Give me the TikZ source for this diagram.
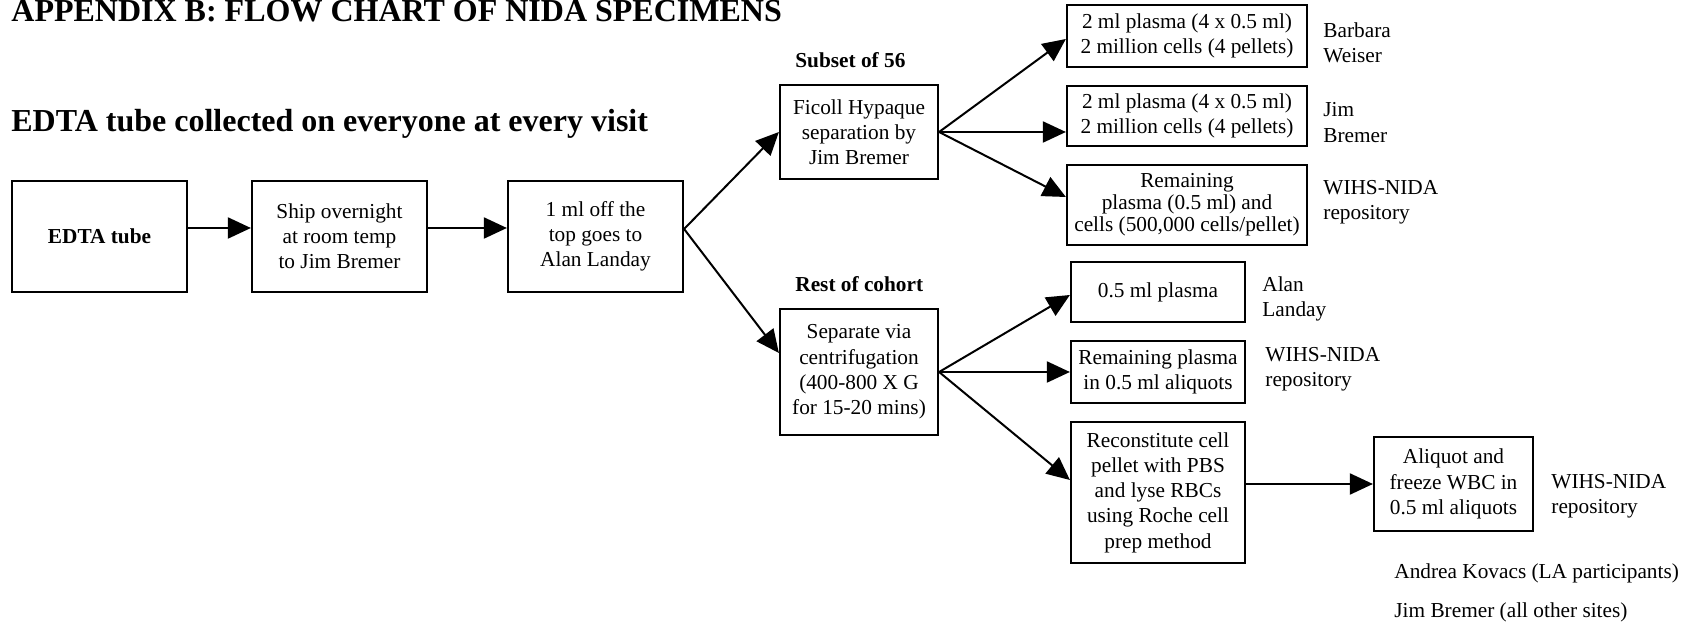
\documentclass[tikz,border=0pt]{standalone}
\usepackage{fontspec}
\setmainfont{Liberation Serif}
\usetikzlibrary{arrows.meta,calc}
\newcommand\bodyfont{\fontsize{10.65}{12.6}\selectfont}
\newcommand\tightfont{\fontsize{10.65}{10.9}\selectfont}
\newcommand\headfont{\fontsize{16}{19}\selectfont\bfseries}
\begin{document}
\begin{tikzpicture}[x=0.5pt,y=-0.5pt,
  box/.style={draw,line width=1.1pt,inner sep=0pt,align=center,font=\bodyfont},
  lbl/.style={anchor=west,inner sep=0pt,align=left,font=\bodyfont},
  head/.style={anchor=base west,inner sep=0pt,font=\headfont},
  subhead/.style={anchor=base west,inner sep=0pt,font=\bodyfont\bfseries},
  conn/.style={line width=1pt,-{Triangle[length=11.5pt,width=10.5pt]}},
]
\useasboundingbox (0,0) rectangle (1694,625);

% headings
\node[head] (title) at (11,22) {APPENDIX B: FLOW CHART OF NIDA SPECIMENS};
\node[head] (sub) at (11,132) {EDTA tube collected on everyone at every visit};
\node[subhead] (subset) at (795,68) {Subset of 56};
\node[subhead] (rest) at (795,292) {Rest of cohort};

% main chain
\node[box,minimum width=87.5pt,minimum height=55.5pt,font=\bodyfont\bfseries] (edta) at (99.5,236.5) {EDTA tube};
\node[box,minimum width=87.5pt,minimum height=55.5pt] (ship) at (339.5,236.5) {Ship overnight\\at room temp\\to Jim Bremer};
\node[box,minimum width=87.5pt,minimum height=55.5pt] (oneml) at (595.5,236.5) {1 ml off the\\top goes to\\Alan Landay};

% branches
\node[box,minimum width=79pt,minimum height=47pt] (ficoll) at (859,132) {Ficoll Hypaque\\separation by\\Jim Bremer};
\node[box,minimum width=79pt,minimum height=63pt] (sep) at (859,372) {Separate via\\centrifugation\\(400-800 X G\\for 15-20 mins)};

% subset outputs
\node[box,minimum width=120pt,minimum height=31pt] (b1) at (1187,36) {2 ml plasma (4 x 0.5 ml)\\2 million cells (4 pellets)};
\node[box,minimum width=120pt,minimum height=30pt] (b2) at (1187,116) {2 ml plasma (4 x 0.5 ml)\\2 million cells (4 pellets)};
\node[box,minimum width=120pt,minimum height=40pt,font=\tightfont] (b3) at (1187,205) {Remaining\\plasma (0.5 ml) and\\cells (500,000 cells/pellet)};

% rest outputs
\node[box,minimum width=87pt,minimum height=30pt] (c1) at (1158,292) {0.5 ml plasma};
\node[box,minimum width=87pt,minimum height=31pt] (c2) at (1158,372) {Remaining plasma\\in 0.5 ml aliquots};
\node[box,minimum width=87pt,minimum height=70.5pt] (c3) at (1158,492.5) {Reconstitute cell\\pellet with PBS\\and lyse RBCs\\using Roche cell\\prep method};
\node[box,minimum width=79.5pt,minimum height=47pt] (d) at (1453.5,484) {Aliquot and\\freeze WBC in\\0.5 ml aliquots};

% side labels
\node[lbl] (lb1) at (1323,42.5) {Barbara\\Weiser};
\node[lbl] (lb2) at (1323,122.5) {Jim\\Bremer};
\node[lbl] (lb3) at (1323,202) {WIHS-NIDA\\repository};
\node[lbl] (lc1) at (1262,299) {Alan\\Landay};
\node[lbl] (lc2) at (1265,369.5) {WIHS-NIDA\\repository};
\node[lbl] (ld) at (1551,496) {WIHS-NIDA\\repository};
\node[lbl] (ak) at (1394,573) {Andrea Kovacs (LA participants)};
\node[lbl] (jb) at (1394,612) {Jim Bremer (all other sites)};

% connectors
\draw[conn] ($(edta.east)+(0,-8.5)$) -- ($(ship.west)+(0,-8.5)$);
\draw[conn] ($(ship.east)+(0,-8.5)$) -- ($(oneml.west)+(0,-8.5)$);
\coordinate (o1) at ($(oneml.east)+(0,-7.5)$);
\draw[conn] (o1) -- (ficoll.west);
\draw[conn] (o1) -- ($(sep.west)+(0,-19)$);

\draw[conn] (ficoll.east) -- ($(b1.west)+(0,3)$);
\draw[conn] (ficoll.east) -- (b2.west |- ficoll.east);
\draw[conn] (ficoll.east) -- ($(b3.west)+(0,-8)$);

\draw[conn] (sep.east) -- ($(c1.west)+(0,3)$);
\draw[conn] (sep.east) -- (c2.west |- sep.east);
\draw[conn] (sep.east) -- ($(c3.west)+(0,-12.5)$);

\draw[conn] (c3.east |- d.west) -- (d.west);
\end{tikzpicture}
\end{document}
